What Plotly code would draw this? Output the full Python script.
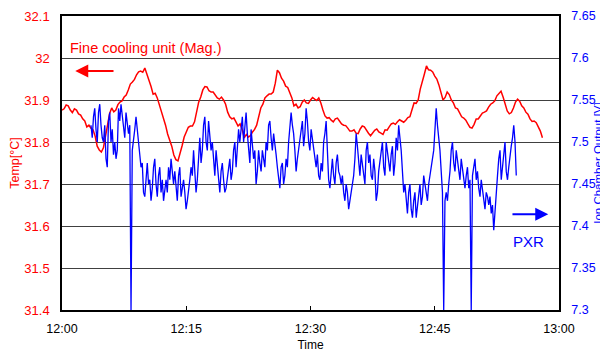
import plotly.graph_objects as go

# ---------------- data ----------------
tick_minutes = [0, 15, 30, 45, 60]
tick_labels = ["12:00", "12:15", "12:30", "12:45", "13:00"]

# Fine cooling unit temperature, readings every 0.25 min (main + in-between samples)
temp_start_min = 0.0
temp_step_min = 0.25
temp_main = [
    31.876, 31.888, 31.876, 31.879, 31.867, 31.855, 31.836, 31.833, 31.814, 31.781,
    31.786, 31.840, 31.881, 31.876, 31.895, 31.907, 31.924, 31.943, 31.960, 31.969,
    31.976, 31.943, 31.914, 31.905, 31.871, 31.840, 31.805, 31.769, 31.755, 31.791,
    31.826, 31.838, 31.848, 31.895, 31.924, 31.931, 31.919, 31.912, 31.902, 31.900,
    31.871, 31.855, 31.848, 31.843, 31.810, 31.812, 31.824, 31.840, 31.881, 31.905,
    31.914, 31.919, 31.971, 31.952, 31.933, 31.919, 31.886, 31.881, 31.895, 31.893,
    31.900, 31.902, 31.905, 31.876, 31.857, 31.852, 31.855, 31.850, 31.840, 31.833,
    31.826, 31.821, 31.831, 31.836, 31.821, 31.821, 31.831, 31.821, 31.829, 31.836,
    31.845, 31.848, 31.850, 31.852, 31.860, 31.893, 31.900, 31.948, 31.981, 31.971,
    31.957, 31.936, 31.900, 31.919, 31.900, 31.881, 31.869, 31.857, 31.843, 31.833,
    31.855, 31.862, 31.871, 31.883, 31.893, 31.910, 31.921, 31.888, 31.867, 31.881,
    31.902, 31.886, 31.871, 31.855, 31.850, 31.836, 31.810,
]
temp_between = [
    31.879, 31.886, 31.870, 31.876, 31.864, 31.850, 31.840, 31.829, 31.790, 31.776,
    31.817, 31.868, 31.872, 31.889, 31.898, 31.912, 31.938, 31.949, 31.967, 31.966,
    31.962, 31.932, 31.916, 31.890, 31.860, 31.819, 31.790, 31.758, 31.771, 31.812,
    31.835, 31.838, 31.874, 31.907, 31.932, 31.922, 31.919, 31.905, 31.907, 31.890,
    31.860, 31.857, 31.838, 31.830, 31.818, 31.815, 31.830, 31.864, 31.890, 31.910,
    31.914, 31.940, 31.965, 31.945, 31.930, 31.905, 31.890, 31.884, 31.900, 31.892,
    31.906, 31.899, 31.893, 31.862, 31.858, 31.848, 31.857, 31.843, 31.839, 31.826,
    31.829, 31.820, 31.838, 31.827, 31.815, 31.828, 31.824, 31.818, 31.828, 31.843,
    31.842, 31.853, 31.847, 31.858, 31.874, 31.892, 31.926, 31.962, 31.972, 31.967,
    31.950, 31.916, 31.906, 31.913, 31.893, 31.879, 31.860, 31.852, 31.835, 31.842,
    31.855, 31.869, 31.874, 31.890, 31.898, 31.917, 31.907, 31.874, 31.870, 31.895,
    31.897, 31.881, 31.866, 31.849, 31.846, 31.826,
]

# PXR ion chamber output, readings every 0.151 min (main + in-between samples)
pxr_start_min = 3.5
pxr_step_min = 0.151
pxr_main = [
    7.52, 7.53, 7.515, 7.535, 7.52, 7.50, 7.48, 7.525, 7.50, 7.485,
    7.48, 7.54, 7.545, 7.52, 7.535, 7.51, 7.30, 7.50, 7.53, 7.50,
    7.47, 7.44, 7.46, 7.45, 7.43, 7.47, 7.45, 7.46, 7.44, 7.43,
    7.455, 7.47, 7.48, 7.45, 7.445, 7.46, 7.435, 7.455, 7.42, 7.44,
    7.47, 7.49, 7.44, 7.49, 7.475, 7.52, 7.50, 7.525, 7.49, 7.475,
    7.49, 7.45, 7.465, 7.455, 7.445, 7.47, 7.455, 7.49, 7.47, 7.515,
    7.52, 7.50, 7.535, 7.49, 7.515, 7.48, 7.45, 7.49, 7.465, 7.48,
    7.50, 7.52, 7.505, 7.51, 7.485, 7.455, 7.47, 7.45, 7.48, 7.50,
    7.535, 7.51, 7.465, 7.49, 7.515, 7.495, 7.54, 7.50, 7.515, 7.49,
    7.47, 7.46, 7.475, 7.50, 7.525, 7.455, 7.47, 7.46, 7.475, 7.465,
    7.45, 7.44, 7.45, 7.42, 7.445, 7.46, 7.51, 7.47, 7.485, 7.46,
    7.49, 7.475, 7.46, 7.48, 7.43, 7.465, 7.49, 7.47, 7.50, 7.475,
    7.485, 7.46, 7.505, 7.52, 7.49, 7.44, 7.425, 7.44, 7.42, 7.43,
    7.41, 7.44, 7.425, 7.46, 7.44, 7.45, 7.47, 7.49, 7.54, 7.505,
    7.465, 7.30, 7.44, 7.45, 7.49, 7.475, 7.49, 7.465, 7.48, 7.455,
    7.46, 7.445, 7.30, 7.47, 7.455, 7.445, 7.455, 7.43, 7.44, 7.425,
    7.415, 7.395, 7.445, 7.48, 7.455, 7.49, 7.465, 7.47, 7.495, 7.52,
    7.46,
]
pxr_between = [
    7.505, 7.54, 7.50, 7.545, 7.505, 7.52, 7.47, 7.535, 7.515, 7.50,
    7.49, 7.525, 7.53, 7.505, 7.52, 7.52, 7.49, 7.515, 7.515, 7.49,
    7.475, 7.435, 7.475, 7.455, 7.445, 7.48, 7.435, 7.47, 7.455, 7.44,
    7.44, 7.455, 7.465, 7.465, 7.43, 7.47, 7.445, 7.44, 7.43, 7.455,
    7.46, 7.47, 7.455, 7.505, 7.49, 7.53, 7.49, 7.505, 7.50, 7.46,
    7.47, 7.44, 7.475, 7.44, 7.455, 7.48, 7.465, 7.50, 7.49, 7.50,
    7.53, 7.515, 7.51, 7.475, 7.50, 7.49, 7.465, 7.475, 7.49, 7.47,
    7.49, 7.525, 7.49, 7.50, 7.47, 7.445, 7.475, 7.46, 7.47, 7.515,
    7.52, 7.49, 7.48, 7.50, 7.525, 7.51, 7.525, 7.49, 7.505, 7.48,
    7.485, 7.455, 7.465, 7.51, 7.49, 7.445, 7.48, 7.45, 7.485, 7.46,
    7.46, 7.43, 7.44, 7.43, 7.45, 7.48, 7.495, 7.46, 7.475, 7.45,
    7.50, 7.485, 7.455, 7.465, 7.44, 7.475, 7.50, 7.46, 7.49, 7.465,
    7.495, 7.475, 7.49, 7.505, 7.465, 7.45, 7.415, 7.45, 7.41, 7.44,
    7.425, 7.45, 7.435, 7.45, 7.43, 7.46, 7.48, 7.515, 7.52, 7.49,
    7.44, 7.43, 7.43, 7.465, 7.50, 7.465, 7.48, 7.455, 7.47, 7.445,
    7.47, 7.455, 7.46, 7.48, 7.465, 7.435, 7.445, 7.42, 7.435, 7.435,
    7.425, 7.42, 7.46, 7.49, 7.47, 7.50, 7.455, 7.485, 7.505, 7.50,
]


def interleave(main, between):
    out = []
    for i, v in enumerate(main):
        out.append(v)
        if i < len(between):
            out.append(between[i])
    return out


temp_values = interleave(temp_main, temp_between)
pxr_values = interleave(pxr_main, pxr_between)
temp_minutes = [temp_start_min + i * temp_step_min for i in range(len(temp_values))]
pxr_minutes = [pxr_start_min + i * pxr_step_min for i in range(len(pxr_values))]

RED = "#FF0000"
BLUE = "#0000FF"
FONT = "Liberation Sans"

fig = go.Figure()
fig.add_trace(go.Scatter(x=temp_minutes, y=temp_values, mode="lines",
                         line=dict(color=RED, width=1.5), yaxis="y", showlegend=False))
fig.add_trace(go.Scatter(x=pxr_minutes, y=pxr_values, mode="lines",
                         line=dict(color=BLUE, width=1.3), yaxis="y2", showlegend=False))

fig.update_layout(
    width=608, height=352,
    margin=dict(l=54, r=57, t=8, b=50, autoexpand=False),
    paper_bgcolor="white", plot_bgcolor="white",
    font=dict(family=FONT, size=12, color="black"),
    xaxis=dict(
        range=[0, 60], tickvals=tick_minutes, ticktext=tick_labels,
        showgrid=False, zeroline=False, automargin=False,
        showline=True, linecolor="black", linewidth=1.5, mirror=True,
        ticks="inside", ticklen=4, tickcolor="black", ticklabelstandoff=6,
        tickfont=dict(family=FONT, size=12.5, color="black"),
        title=dict(text="Time", font=dict(family=FONT, size=12, color="black"), standoff=6),
    ),
    yaxis=dict(
        range=[31.4, 32.1], dtick=0.1, tickformat="~g", automargin=False,
        showgrid=True, gridcolor="#404040", gridwidth=1,
        zeroline=False, showline=True, linecolor="black", linewidth=1.5,
        ticks="", ticklabelstandoff=8,
        tickfont=dict(family=FONT, size=13, color=RED),
        title=dict(text="Temp[°C]", font=dict(family=FONT, size=12.5, color=RED), standoff=4),
    ),
    yaxis2=dict(
        range=[7.3, 7.65], dtick=0.05, tickformat="~g", automargin=False,
        overlaying="y", side="right",
        showgrid=False, zeroline=False, showline=True, linecolor="black", linewidth=1.5,
        ticks="", ticklabelstandoff=8,
        tickfont=dict(family=FONT, size=12.5, color=BLUE),
    ),
)

# right axis title (placed as rotated text so it sits at the page edge like the original)
fig.add_annotation(x=1.078, y=0.5, xref="paper", yref="paper", text="Ion Chamber Output [V]",
                   textangle=-90, showarrow=False, xanchor="center", yanchor="middle",
                   font=dict(family=FONT, size=11.5, color=BLUE))

fig.add_annotation(x=0.7, y=32.024, xref="x", yref="y", text="Fine cooling unit (Mag.)",
                   showarrow=False, xanchor="left", yanchor="middle",
                   font=dict(family=FONT, size=14.5, color=RED))
fig.add_annotation(x=1.6, y=31.969, ax=6.4, ay=31.969, xref="x", yref="y", axref="x", ayref="y",
                   text="", showarrow=True, arrowhead=2, arrowsize=1.3, arrowwidth=2, arrowcolor=RED)
fig.add_annotation(x=58.7, y=7.414, ax=54.2, ay=7.414, xref="x", yref="y2", axref="x", ayref="y2",
                   text="", showarrow=True, arrowhead=2, arrowsize=1.3, arrowwidth=2, arrowcolor=BLUE)
fig.add_annotation(x=56.3, y=7.381, xref="x", yref="y2", text="PXR", showarrow=False,
                   xanchor="center", yanchor="middle",
                   font=dict(family=FONT, size=15, color=BLUE))

fig.write_html("out.html")
